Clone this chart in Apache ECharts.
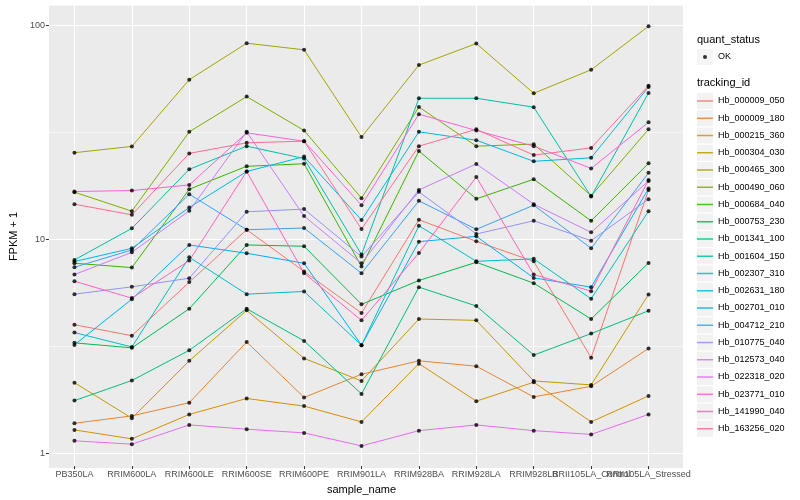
<!DOCTYPE html>
<html><head><meta charset="utf-8">
<script src="https://cdn.jsdelivr.net/npm/echarts@6/dist/echarts.min.js"></script>
<style>html,body{margin:0;padding:0;background:#fff}#c{width:800px;height:500px}</style>
</head><body><div id="c"></div>
<script>
const categories = ['PB350LA','RRIM600LA','RRIM600LE','RRIM600SE','RRIM600PE','RRIM901LA','RRIM928BA','RRIM928LA','RRIM928LB','RRII105LA_Control','RRII105LA_Stressed'];
const trackingIds = ['Hb_000009_050','Hb_000009_180','Hb_000215_360','Hb_000304_030','Hb_000465_300','Hb_000490_060','Hb_000684_040','Hb_000753_230','Hb_001341_100','Hb_001604_150','Hb_002307_310','Hb_002631_180','Hb_002701_010','Hb_004712_210','Hb_010775_040','Hb_012573_040','Hb_022318_020','Hb_023771_010','Hb_141990_040','Hb_163256_020'];
const colors = ['#F8766D','#EA8331','#D89000','#C09B00','#A3A500','#7CAE00','#39B600','#00BB4E','#00BF7D','#00C1A3','#00BFC4','#00BAE0','#00B0F6','#35A2FF','#9590FF','#C77CFF','#E76BF3','#FA62DB','#FF62BC','#FF6C91'];
const yTickLabels = [1, 10, 100];

const Hb_000009_050 = [3.93, 3.49, 6.23, 10.98, 6.99, 4.46, 12.23, 9.68, 7.80, 2.75, 16.89];
const Hb_000009_180 = [1.354, 1.466, 1.692, 3.26, 1.79, 2.30, 2.66, 2.51, 1.80, 2.02, 3.04];
const Hb_000215_360 = [1.26, 1.144, 1.49, 1.77, 1.63, 1.374, 2.58, 1.72, 2.11, 1.374, 1.82];
const Hb_000304_030 = [2.10, 1.43, 2.66, 4.59, 2.73, 2.14, 4.18, 4.12, 2.14, 2.05, 5.45];
const Hb_000465_300 = [25.25, 27.03, 55.6, 82.5, 76.8, 29.9, 65.1, 82.2, 48.0, 61.9, 99.1];
const Hb_000490_060 = [16.47, 13.42, 31.65, 46.3, 32.1, 15.44, 41.4, 27.1, 27.7, 15.83, 32.5];
const Hb_000684_040 = [7.64, 7.29, 17.01, 21.8, 22.4, 7.37, 25.7, 15.33, 18.94, 12.09, 22.5];
const Hb_000753_230 = [3.23, 3.06, 4.67, 9.31, 9.18, 4.90, 6.34, 7.72, 6.16, 4.18, 7.67];
const Hb_001341_100 = [1.73, 2.15, 2.98, 4.67, 3.30, 1.86, 5.90, 4.81, 2.83, 3.57, 4.57];
const Hb_001604_150 = [7.92, 11.14, 21.1, 27.1, 23.7, 8.39, 45.5, 45.5, 41.3, 15.72, 48.2];
const Hb_002307_310 = [3.61, 3.09, 8.15, 5.47, 5.63, 3.15, 11.46, 7.80, 8.01, 5.20, 13.42];
const Hb_002631_180 = [7.78, 8.98, 13.96, 20.6, 24.2, 12.18, 31.65, 28.9, 23.0, 23.9, 51.4];
const Hb_002701_010 = [3.16, 5.18, 9.31, 8.51, 7.64, 3.15, 9.65, 10.22, 6.52, 5.90, 17.13];
const Hb_004712_210 = [7.32, 8.82, 16.12, 10.98, 11.18, 6.86, 15.0, 11.02, 14.31, 8.98, 20.3];
const Hb_010775_040 = [5.47, 5.92, 6.50, 13.33, 13.72, 8.21, 16.53, 10.48, 12.09, 9.75, 15.27];
const Hb_012573_040 = [6.76, 8.60, 13.47, 31.65, 12.72, 7.64, 16.89, 22.35, 14.47, 10.67, 18.6];
const Hb_022318_020 = [1.12, 1.08, 1.33, 1.27, 1.22, 1.06, 1.25, 1.33, 1.25, 1.20, 1.49];
const Hb_023771_010 = [16.59, 16.77, 17.82, 31.3, 28.6, 14.31, 38.3, 32.1, 27.1, 21.3, 35.1];
const Hb_141990_040 = [6.29, 5.24, 7.86, 20.6, 6.86, 4.12, 8.54, 19.4, 6.76, 5.65, 18.8];
const Hb_163256_020 = [14.47, 12.90, 25.06, 28.1, 28.6, 11.06, 27.1, 32.5, 24.6, 26.6, 52.1];

const values = [Hb_000009_050, Hb_000009_180, Hb_000215_360, Hb_000304_030, Hb_000465_300, Hb_000490_060, Hb_000684_040, Hb_000753_230, Hb_001341_100, Hb_001604_150, Hb_002307_310, Hb_002631_180, Hb_002701_010, Hb_004712_210, Hb_010775_040, Hb_012573_040, Hb_022318_020, Hb_023771_010, Hb_141990_040, Hb_163256_020];

const FONT = '"Liberation Sans", Arial, Helvetica, sans-serif';
const yMin = 0.852, yMax = 124.7;
const rt10 = Math.sqrt(10);

const lineSeries = trackingIds.map((id, k) => ({
  name: id, type: 'line', xAxisIndex: 1, yAxisIndex: 2,
  data: values[k], symbol: 'none', showSymbol: false, clip: false, silent: true,
  lineStyle: { color: colors[k], width: 1 }, itemStyle: { color: colors[k] }, z: 2
}));
const pointData = [];
values.forEach(arr => arr.forEach((v, i) => pointData.push([categories[i], v])));
const pointSeries = {
  name: 'OK', type: 'scatter', xAxisIndex: 1, yAxisIndex: 2, data: pointData,
  symbol: 'circle', symbolSize: 4, itemStyle: { color: '#000' }, clip: false, silent: true, z: 3
};

const legendText = { color: '#000', fontSize: 9, fontFamily: FONT, lineHeight: 16, height: 16 };
const chart = echarts.init(document.getElementById('c'));
chart.setOption({
  animation: false,
  backgroundColor: '#fff',
  title: [
    { text: 'quant_status', left: 697, top: 34, padding: 0, textStyle: { fontSize: 11, fontWeight: 'normal', color: '#000', fontFamily: FONT } },
    { text: 'tracking_id', left: 697, top: 77.5, padding: 0, textStyle: { fontSize: 11, fontWeight: 'normal', color: '#000', fontFamily: FONT } }
  ],
  grid: [
    { left: 40, top: 5, width: 643, height: 463, show: true, backgroundColor: '#EBEBEB', borderWidth: 0 },
    { left: 74.45, top: 5, width: 574.1, height: 463, show: false }
  ],
  xAxis: [
    { type: 'value', gridIndex: 0, show: false, min: 0, max: 1 },
    { type: 'category', gridIndex: 1, data: categories, boundaryGap: false,
      axisLine: { show: false },
      axisTick: { show: true, length: 3, lineStyle: { color: '#333333', width: 1 } },
      axisLabel: { interval: 0, color: '#4D4D4D', fontSize: 9, fontFamily: FONT, margin: 4 },
      splitLine: { show: true, interval: 0, lineStyle: { color: '#ffffff', width: 1.1 } },
      name: 'sample_name', nameLocation: 'middle', nameGap: 14,
      nameTextStyle: { fontSize: 11, color: '#000', fontFamily: FONT } }
  ],
  yAxis: [
    { type: 'log', logBase: 10, gridIndex: 0, min: yMin, max: yMax,
      axisLine: { show: false },
      axisTick: { show: true, length: 3, lineStyle: { color: '#333333', width: 1 }, customValues: yTickLabels },
      axisLabel: { color: '#4D4D4D', fontSize: 9, fontFamily: FONT, margin: 4, customValues: yTickLabels,
        formatter: v => yTickLabels.some(t => Math.abs(t - v) / t < 1e-6) ? String(Math.round(v)) : '' },
      splitLine: { show: true, lineStyle: { color: '#ffffff', width: 1.1 } },
      name: 'FPKM + 1', nameLocation: 'middle', nameGap: 22,
      nameTextStyle: { fontSize: 11, color: '#000', fontFamily: FONT } },
    { type: 'log', logBase: 10, gridIndex: 0, min: yMin * rt10, max: yMax * rt10,
      axisLine: { show: false }, axisTick: { show: false }, axisLabel: { show: false },
      splitLine: { show: true, lineStyle: { color: '#ffffff', width: 0.55 } } },
    { type: 'log', logBase: 10, gridIndex: 1, min: yMin, max: yMax, show: false }
  ],
  legend: [
    { data: [{ name: 'OK', icon: 'rect', itemStyle: { color: '#F2F2F2', borderWidth: 0 } }],
      left: 697, top: 49, padding: 0, itemWidth: 16, itemHeight: 16, selectedMode: false,
      textStyle: legendText },
    { data: [{ name: 'OK', icon: 'circle', itemStyle: { color: '#000', borderWidth: 0 } }],
      left: 703, top: 55, padding: 0, itemWidth: 4, itemHeight: 4, selectedMode: false,
      formatter: () => '', textStyle: { color: 'rgba(0,0,0,0)', fontSize: 9 } },
    { data: trackingIds.map(n => ({ name: n, icon: 'rect', itemStyle: { color: '#F2F2F2', borderWidth: 0 } })),
      orient: 'vertical', left: 697, top: 93, padding: 0, itemWidth: 16, itemHeight: 16, itemGap: 1.25,
      selectedMode: false, textStyle: Object.assign({}, legendText, { color: 'rgba(0,0,0,0)' }) },
    { data: trackingIds.map((n, k) => ({ name: n, icon: 'path://M0,0 L16,0 L16,1.5 L0,1.5 Z', itemStyle: { color: colors[k], borderWidth: 0, opacity: 0.85 } })),
      orient: 'vertical', left: 697, top: 93, padding: 0, itemWidth: 16, itemHeight: 16, itemGap: 1.25,
      selectedMode: false, textStyle: legendText }
  ],
  series: [...lineSeries, pointSeries]
});
</script></body></html>
